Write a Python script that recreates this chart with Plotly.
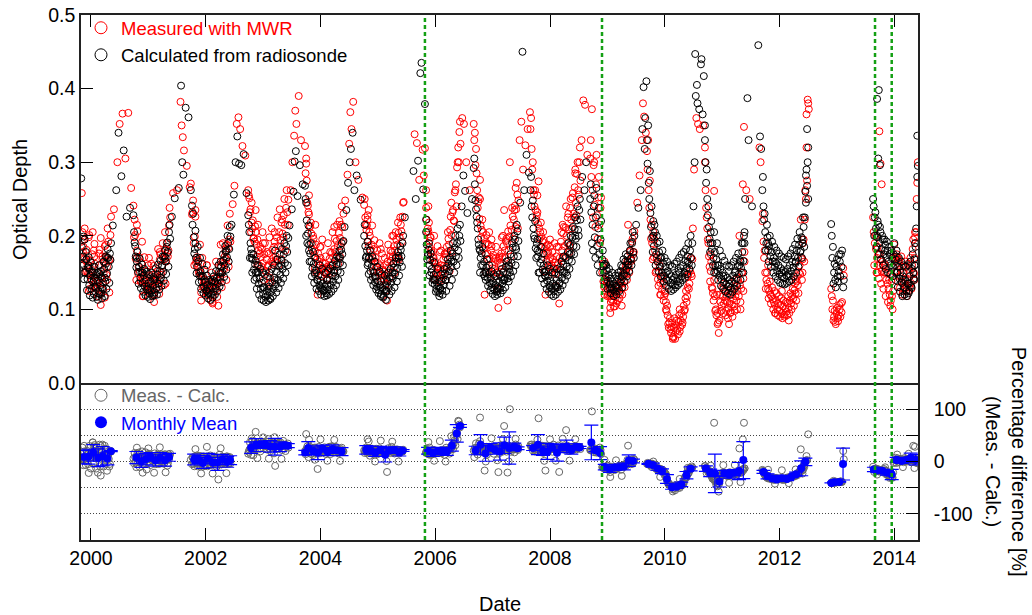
import plotly.graph_objects as go
import pandas as pd

# ---------------- data ----------------
# each entry: (decimal year, optical depth calculated from radiosonde, optical depth measured with MWR)
season_1999_2000 = [
    (1999.83, .278, None), (1999.84, None, .258),
    (1999.84, .185, .192), (1999.86, .172, .178), (1999.87, .160, .171), (1999.89, .195, .210), (1999.90, .150, .152),
    (1999.92, .168, .181), (1999.94, .141, .160), (1999.95, .157, .149), (1999.97, .133, .148), (1999.99, .146, .166),
    (2000.01, .128, .139), (2000.02, .152, .175), (2000.03, .150, .205), (2000.04, .137, .131), (2000.05, .121, .146),
    (2000.07, .143, .162), (2000.08, .130, .138), (2000.10, .117, .131), (2000.11, .139, .150), (2000.13, .125, .139),
    (2000.15, .148, .181), (2000.16, .133, .121), (2000.17, .145, .106), (2000.18, .121, .143), (2000.20, .142, .168),
    (2000.21, .128, .136), (2000.23, .155, .163), (2000.24, .118, .116), (2000.25, .138, .172), (2000.26, .162, .171),
    (2000.28, .149, .158), (2000.30, .170, .192), (2000.31, .158, .166), (2000.33, .176, .168), (2000.35, .190, .226),
]
extra_1999_2000 = [
    (1999.85, .162, .205), (1999.88, .141, .168), (1999.91, .178, .166), (1999.93, .126, .152), (1999.96, .171, .198),
    (1999.98, .119, .128), (2000.00, .164, .142), (2000.03, .116, .158), (2000.06, .158, .189), (2000.09, .148, .128),
    (2000.12, .113, .135), (2000.14, .160, .176), (2000.17, .152, .197), (2000.19, .115, .127), (2000.22, .165, .149),
    (2000.24, .143, .186), (2000.27, .128, .147), (2000.29, .182, .210), (2000.32, .136, .123), (2000.34, .167, .201),
    (1999.87, .199, .185), (1999.97, .155, .201), (2000.06, .131, .172), (2000.15, .121, .160), (2000.26, .172, .188),
]
summer_2000 = [
    (2000.38, .214, None), (2000.40, None, .236), (2000.44, .262, None), (2000.46, None, .300), (2000.48, .340, None),
    (2000.50, None, .352), (2000.53, .281, None), (2000.55, None, .366), (2000.57, .316, None), (2000.60, None, .305),
    (2000.62, .226, None), (2000.65, None, .367), (2000.68, .238, None), (2000.70, None, .265),
]
season_2000_2001 = [
    (2000.74, .228, .241), (2000.75, .205, .198), (2000.77, .186, .201), (2000.78, .172, .169), (2000.80, .165, .180),
    (2000.82, .151, .149), (2000.84, .158, .171), (2000.86, .143, .139), (2000.88, .150, .163), (2000.90, .136, .141),
    (2000.92, .146, .138), (2000.94, .131, .143), (2000.96, .140, .152), (2000.98, .127, .125), (2001.00, .135, .146),
    (2001.02, .122, .131), (2001.04, .138, .129), (2001.06, .126, .139), (2001.08, .133, .147), (2001.10, .119, .121),
    (2001.12, .141, .138), (2001.14, .129, .140), (2001.16, .147, .152), (2001.18, .135, .131), (2001.20, .152, .168),
    (2001.22, .143, .147), (2001.24, .160, .159), (2001.26, .151, .170), (2001.28, .172, .168), (2001.30, .165, .181),
    (2001.32, .185, .190), (2001.34, .178, .172), (2001.36, .205, .214), (2001.38, .196, .225),
]
extra_2000_2001 = [
    (2000.76, .191, .222), (2000.79, .157, .140), (2000.81, .178, .206), (2000.83, .135, .158), (2000.85, .169, .151),
    (2000.87, .129, .137), (2000.89, .161, .192), (2000.91, .124, .118), (2000.93, .155, .171), (2000.95, .119, .140),
    (2000.97, .151, .128), (2000.99, .117, .132), (2001.01, .148, .170), (2001.03, .114, .127), (2001.05, .150, .162),
    (2001.07, .118, .120), (2001.09, .144, .159), (2001.11, .123, .142), (2001.13, .156, .148), (2001.15, .120, .135),
    (2001.17, .161, .182), (2001.19, .127, .121), (2001.21, .166, .175), (2001.23, .132, .150), (2001.25, .172, .190),
    (2001.27, .139, .133), (2001.29, .180, .205), (2001.31, .148, .165), (2001.33, .191, .176), (2001.35, .158, .180),
    (2001.37, .215, .238),
]
summer_2001 = [
    (2001.41, .226, None), (2001.43, None, .258), (2001.46, .251, None), (2001.50, None, .262), (2001.53, .265, None),
    (2001.56, None, .382), (2001.57, .404, None), (2001.58, None, .350), (2001.59, .300, None), (2001.60, None, .334),
    (2001.61, .283, None), (2001.62, None, .316), (2001.65, .374, None), (2001.67, None, .295), (2001.70, .361, None),
    (2001.72, None, .266),
]
season_2001_2002 = [
    (2001.74, .262, .271), (2001.76, .241, .229), (2001.77, .215, .232), (2001.79, .198, .190), (2001.81, .182, .199),
    (2001.83, .170, .163), (2001.85, .158, .171), (2001.87, .165, .158), (2001.89, .146, .152), (2001.91, .152, .149),
    (2001.93, .138, .144), (2001.95, .145, .131), (2001.97, .131, .140), (2001.99, .137, .129), (2002.01, .126, .134),
    (2002.03, .133, .121), (2002.05, .122, .127), (2002.07, .129, .131), (2002.09, .120, .112), (2002.11, .131, .136),
    (2002.13, .124, .119), (2002.15, .138, .142), (2002.17, .129, .135), (2002.19, .142, .128), (2002.21, .135, .139),
    (2002.22, .160, .105), (2002.23, .151, .160), (2002.25, .144, .141), (2002.27, .158, .149), (2002.29, .150, .164),
    (2002.31, .167, .162), (2002.33, .160, .172), (2002.35, .178, .169), (2002.37, .171, .188), (2002.39, .190, .183),
    (2002.41, .182, .195), (2002.43, .199, .192),
]
extra_2001_2002 = [
    (2001.78, .230, .248), (2001.80, .176, .160), (2001.82, .207, .226), (2001.84, .149, .166), (2001.86, .185, .168),
    (2001.88, .137, .150), (2001.90, .170, .188), (2001.92, .128, .123), (2001.94, .162, .170), (2001.96, .122, .134),
    (2001.98, .154, .141), (2002.00, .119, .125), (2002.02, .146, .160), (2002.04, .115, .120), (2002.06, .140, .133),
    (2002.08, .113, .126), (2002.10, .138, .150), (2002.12, .116, .110), (2002.14, .145, .138), (2002.16, .120, .131),
    (2002.18, .152, .165), (2002.20, .125, .117), (2002.24, .131, .148), (2002.26, .165, .158), (2002.28, .137, .130),
    (2002.30, .175, .190), (2002.32, .144, .155), (2002.34, .186, .179), (2002.36, .154, .168), (2002.38, .200, .214),
    (2002.40, .165, .158), (2002.42, .212, .230),
]
summer_2002 = [
    (2002.45, .215, None), (2002.47, None, .243), (2002.49, .256, None), (2002.50, None, .268), (2002.52, .300, None),
    (2002.54, None, .352), (2002.55, .335, None), (2002.57, None, .361), (2002.58, .298, None), (2002.60, None, .345),
    (2002.62, .296, None), (2002.64, None, .322), (2002.66, .311, None), (2002.69, None, .309), (2002.71, .258, None),
]
season_2002_2003 = [
    (2002.74, .228, .262), (2002.76, .205, .251), (2002.78, .190, .236), (2002.80, .176, .218), (2002.82, .168, .221),
    (2002.84, .154, .197), (2002.86, .161, .213), (2002.87, .150, .235), (2002.88, .143, .189), (2002.90, .150, .195),
    (2002.92, .135, .180), (2002.94, .142, .176), (2002.96, .128, .171), (2002.98, .136, .182), (2003.00, .121, .163),
    (2003.02, .130, .175), (2003.04, .117, .152), (2003.06, .125, .168), (2003.08, .119, .158), (2003.10, .131, .176),
    (2003.12, .115, .143), (2003.14, .124, .165), (2003.16, .137, .181), (2003.18, .128, .170), (2003.20, .143, .192),
    (2003.21, .180, .165), (2003.22, .134, .172), (2003.24, .151, .198), (2003.26, .140, .186), (2003.28, .158, .205),
    (2003.30, .147, .194), (2003.32, .166, .218), (2003.34, .155, .203), (2003.36, .175, .228), (2003.38, .163, .215),
    (2003.40, .186, .238), (2003.42, .178, .232), (2003.44, .197, .249),
]
extra_2002_2003 = [
    (2002.75, .215, .255), (2002.77, .170, .232), (2002.79, .182, .205), (2002.81, .150, .210), (2002.83, .175, .196),
    (2002.85, .140, .192), (2002.87, .166, .205), (2002.89, .128, .172), (2002.91, .160, .215), (2002.93, .120, .160),
    (2002.95, .155, .185), (2002.97, .114, .158), (2002.99, .150, .205), (2003.01, .112, .140), (2003.03, .147, .190),
    (2003.05, .110, .152), (2003.07, .145, .178), (2003.09, .112, .160), (2003.11, .150, .198), (2003.13, .114, .137),
    (2003.15, .155, .210), (2003.17, .118, .162), (2003.19, .160, .185), (2003.23, .123, .168), (2003.25, .168, .225),
    (2003.27, .129, .160), (2003.29, .175, .236), (2003.31, .136, .185), (2003.33, .182, .222), (2003.35, .142, .198),
    (2003.37, .190, .250), (2003.39, .150, .180), (2003.41, .200, .262), (2003.43, .160, .215),
]
summer_2003 = [
    (2003.46, .214, None), (2003.48, None, .262), (2003.50, .236, None), (2003.51, None, .300), (2003.53, .260, None),
    (2003.54, None, .336), (2003.55, .301, None), (2003.56, None, .370), (2003.57, .315, None), (2003.58, None, .352),
    (2003.60, .254, None), (2003.62, None, .390), (2003.64, .296, None), (2003.66, None, .330), (2003.69, .270, None),
]
season_2003_2004 = [
    (2003.73, .268, .322), (2003.75, .245, .298), (2003.75, .200, .305), (2003.76, .221, .275), (2003.78, .203, .241),
    (2003.80, .188, .229), (2003.82, .176, .213), (2003.84, .165, .203), (2003.86, .156, .190), (2003.88, .162, .196),
    (2003.90, .148, .179), (2003.92, .153, .188), (2003.94, .140, .168), (2003.95, .140, .120), (2003.96, .146, .176),
    (2003.98, .133, .165), (2004.00, .139, .170), (2004.02, .128, .155), (2004.04, .135, .163), (2004.05, .126, .156),
    (2004.06, .125, .151), (2004.08, .131, .162), (2004.10, .122, .148), (2004.12, .134, .158), (2004.14, .127, .156),
    (2004.16, .140, .169), (2004.18, .133, .160), (2004.20, .146, .177), (2004.22, .138, .171), (2004.24, .153, .182),
    (2004.26, .145, .178), (2004.28, .161, .193), (2004.30, .152, .186), (2004.32, .170, .204), (2004.34, .163, .197),
    (2004.36, .181, .215), (2004.38, .175, .212), (2004.40, .193, .230),
]
extra_2003_2004 = [
    (2003.74, .250, .285), (2003.77, .190, .245), (2003.79, .214, .232), (2003.81, .165, .212), (2003.83, .190, .218),
    (2003.85, .145, .182), (2003.87, .178, .200), (2003.89, .136, .172), (2003.91, .170, .215), (2003.93, .128, .150),
    (2003.97, .125, .160), (2003.99, .160, .185), (2004.01, .120, .145), (2004.03, .155, .195), (2004.07, .118, .150),
    (2004.09, .150, .172), (2004.11, .119, .140), (2004.13, .152, .190), (2004.15, .121, .155), (2004.17, .156, .178),
    (2004.19, .124, .160), (2004.21, .160, .205), (2004.23, .128, .150), (2004.25, .166, .196), (2004.27, .133, .170),
    (2004.29, .172, .215), (2004.31, .140, .162), (2004.33, .180, .220), (2004.35, .150, .186), (2004.37, .190, .240),
    (2004.39, .160, .192),
]
summer_2004 = [
    (2004.42, .212, None), (2004.43, None, .248), (2004.45, .235, None), (2004.47, None, .283), (2004.48, .272, None),
    (2004.50, None, .325), (2004.51, .300, None), (2004.52, None, .368), (2004.53, .318, None), (2004.54, None, .345),
    (2004.56, .340, None), (2004.57, None, .382), (2004.59, .262, None), (2004.61, None, .300), (2004.63, .282, None),
    (2004.66, None, .276), (2004.70, .249, None), (2004.73, None, .252),
]
season_2004_2005 = [
    (2004.76, .200, .242), (2004.78, .186, .225), (2004.80, .172, .208), (2004.81, .180, .214), (2004.82, .160, .228),
    (2004.83, .163, .192), (2004.85, .170, .205), (2004.87, .152, .181), (2004.89, .158, .188), (2004.91, .144, .170),
    (2004.93, .150, .182), (2004.95, .137, .165), (2004.96, .143, .170), (2004.98, .131, .157), (2005.00, .138, .163),
    (2005.02, .126, .150), (2005.04, .133, .160), (2005.06, .121, .146), (2005.08, .129, .154), (2005.10, .118, .140),
    (2005.11, .127, .152), (2005.13, .133, .160), (2005.15, .124, .148), (2005.16, .140, .112), (2005.17, .138, .165),
    (2005.19, .130, .156), (2005.21, .144, .172), (2005.23, .136, .166), (2005.25, .150, .178), (2005.26, .142, .171),
    (2005.28, .157, .186), (2005.30, .148, .180), (2005.32, .165, .195), (2005.34, .156, .188), (2005.36, .173, .204),
    (2005.38, .164, .198), (2005.40, .181, .215), (2005.41, .172, .206), (2005.43, .190, .226),
]
extra_2004_2005 = [
    (2004.77, .215, .250), (2004.79, .170, .215), (2004.82, .192, .222), (2004.84, .148, .186), (2004.86, .180, .200),
    (2004.88, .140, .168), (2004.90, .172, .214), (2004.92, .133, .152), (2004.94, .165, .194), (2004.97, .127, .158),
    (2004.99, .158, .180), (2005.01, .122, .150), (2005.03, .152, .190), (2005.05, .118, .138), (2005.07, .148, .176),
    (2005.09, .116, .142), (2005.12, .146, .170), (2005.14, .113, .135), (2005.18, .150, .188), (2005.20, .120, .142),
    (2005.22, .155, .180), (2005.24, .125, .160), (2005.27, .162, .200), (2005.29, .130, .150), (2005.31, .170, .205),
    (2005.33, .138, .170), (2005.35, .178, .218), (2005.37, .146, .168), (2005.39, .186, .225), (2005.42, .158, .192),
    (2005.44, .200, .245),
]
summer_2005 = [
    (2005.45, None, .246), (2005.47, .225, None), (2005.62, .288, None), (2005.64, None, .338), (2005.66, .250, None),
    (2005.68, None, .326), (2005.70, .302, None), (2005.72, None, .276), (2005.74, .421, None), (2005.76, .435, None),
    (2005.78, None, .317), (2005.79, .263, None), (2005.80, None, .282), (2005.82, .379, None), (2005.82, None, .319),
]
season_2005_2006 = [
    (2005.84, .205, .238), (2005.85, .188, .222), (2005.87, .174, .210), (2005.88, .181, .206), (2005.90, .160, .193),
    (2005.91, .167, .198), (2005.93, .150, .180), (2005.94, .155, .177), (2005.96, .141, .170), (2005.97, .147, .171),
    (2005.99, .134, .162), (2006.00, .140, .165), (2006.02, .128, .150), (2006.03, .136, .158), (2006.05, .124, .146),
    (2006.06, .131, .157), (2006.08, .122, .142), (2006.09, .129, .155), (2006.11, .138, .160), (2006.12, .126, .151),
    (2006.14, .143, .168), (2006.15, .133, .159), (2006.17, .149, .176), (2006.18, .140, .171), (2006.20, .156, .185),
    (2006.21, .146, .178), (2006.23, .162, .196), (2006.24, .152, .188), (2006.26, .170, .208), (2006.28, .158, .201),
    (2006.30, .176, .232), (2006.32, .165, .221), (2006.34, .184, .259), (2006.36, .172, .270), (2006.38, .190, .293),
    (2006.40, .180, .320), (2006.42, .200, .341), (2006.44, .193, .325),
]
extra_2005_2006 = [
    (2005.84, .222, .262), (2005.86, .168, .205), (2005.89, .190, .218), (2005.90, .146, .185), (2005.92, .176, .198),
    (2005.95, .136, .166), (2005.98, .164, .200), (2006.01, .124, .148), (2006.04, .155, .186), (2006.07, .118, .138),
    (2006.10, .148, .180), (2006.13, .120, .146), (2006.16, .155, .175), (2006.19, .125, .158), (2006.22, .168, .205),
    (2006.25, .132, .152), (2006.27, .180, .226), (2006.29, .140, .178), (2006.31, .190, .235), (2006.33, .150, .220),
    (2006.35, .200, .262), (2006.37, .160, .240), (2006.39, .210, .300), (2006.41, .170, .300), (2006.43, .215, .355),
]
summer_2006 = [
    (2006.46, .240, None), (2006.47, None, .360), (2006.49, .282, None), (2006.50, None, .352), (2006.52, .261, None),
    (2006.54, None, .300), (2006.56, .231, None), (2006.60, None, .262), (2006.64, .250, None),
]
season_2006_2007 = [
    (2006.67, .292, .352), (2006.69, .270, .340), (2006.70, .248, .296), (2006.72, .226, .285), (2006.74, .210, .238),
    (2006.75, .195, .246), (2006.77, .182, .223), (2006.78, .150, .276), (2006.79, .170, .214), (2006.81, .176, .208),
    (2006.83, .160, .205), (2006.85, .165, .196), (2006.86, .145, .120), (2006.87, .151, .189), (2006.89, .157, .201),
    (2006.91, .143, .176), (2006.93, .148, .188), (2006.95, .136, .169), (2006.97, .142, .180), (2006.99, .130, .160),
    (2007.01, .137, .174), (2007.03, .127, .155), (2007.05, .133, .169), (2007.07, .124, .150), (2007.09, .131, .166),
    (2007.10, .128, .102), (2007.11, .138, .170), (2007.13, .128, .163), (2007.15, .144, .176), (2007.17, .135, .171),
    (2007.19, .151, .186), (2007.20, .140, .235), (2007.21, .141, .180), (2007.23, .158, .193), (2007.25, .148, .190),
    (2007.26, .142, .112), (2007.27, .166, .206), (2007.29, .155, .199), (2007.30, .150, .300), (2007.31, .175, .214),
    (2007.33, .163, .208), (2007.35, .184, .226), (2007.37, .172, .222), (2007.39, .195, .241), (2007.41, .182, .236),
    (2007.43, .206, .256), (2007.45, .193, .248),
]
extra_2006_2007 = [
    (2006.68, .305, .330), (2006.71, .236, .318), (2006.73, .218, .262), (2006.76, .188, .252), (2006.80, .160, .198),
    (2006.82, .185, .222), (2006.84, .148, .182), (2006.88, .140, .175), (2006.90, .168, .190), (2006.92, .132, .168),
    (2006.94, .160, .205), (2006.96, .126, .150), (2006.98, .152, .186), (2007.00, .121, .156), (2007.02, .148, .170),
    (2007.04, .118, .145), (2007.06, .145, .185), (2007.08, .120, .150), (2007.12, .148, .172), (2007.14, .122, .160),
    (2007.16, .155, .198), (2007.18, .126, .150), (2007.22, .130, .170), (2007.24, .165, .196), (2007.28, .138, .180),
    (2007.32, .145, .172), (2007.34, .190, .238), (2007.36, .152, .196), (2007.38, .200, .235), (2007.40, .160, .212),
    (2007.42, .215, .272), (2007.44, .172, .210),
]
summer_2007 = [
    (2007.47, None, .330), (2007.48, .245, None), (2007.50, None, .355), (2007.52, .450, None), (2007.53, None, .290),
    (2007.55, .262, None), (2007.57, None, .323), (2007.59, .310, None), (2007.61, None, .345), (2007.63, .286, None),
    (2007.65, None, .368),
]
season_2007_2008 = [
    (2007.66, .262, .345), (2007.68, .240, .318), (2007.69, .225, .290), (2007.71, .210, .262), (2007.73, .196, .240),
    (2007.75, .183, .235), (2007.77, .190, .228), (2007.79, .172, .216), (2007.80, .150, .274), (2007.81, .178, .210),
    (2007.83, .163, .205), (2007.85, .168, .199), (2007.87, .154, .192), (2007.89, .160, .194), (2007.91, .146, .183),
    (2007.92, .145, .120), (2007.93, .152, .186), (2007.95, .139, .176), (2007.97, .145, .178), (2007.99, .133, .166),
    (2008.01, .139, .171), (2008.03, .128, .160), (2008.05, .135, .168), (2008.07, .125, .155), (2008.09, .132, .164),
    (2008.11, .140, .172), (2008.13, .130, .160), (2008.15, .147, .185), (2008.16, .135, .108), (2008.17, .137, .170),
    (2008.19, .154, .192), (2008.21, .143, .180), (2008.23, .161, .203), (2008.25, .151, .186), (2008.27, .170, .211),
    (2008.28, .150, .240), (2008.29, .158, .200), (2008.31, .178, .225), (2008.33, .167, .209), (2008.35, .188, .238),
    (2008.37, .176, .222), (2008.39, .198, .252), (2008.41, .186, .230), (2008.43, .209, .266), (2008.45, .196, .245),
    (2008.47, .221, .284), (2008.49, .208, .262), (2008.51, .235, .300), (2008.53, .222, .275),
]
extra_2007_2008 = [
    (2007.67, .280, .360), (2007.70, .248, .300), (2007.72, .200, .256), (2007.74, .220, .262), (2007.76, .170, .222),
    (2007.78, .195, .232), (2007.82, .150, .196), (2007.84, .185, .218), (2007.86, .142, .185), (2007.88, .176, .205),
    (2007.90, .135, .175), (2007.94, .128, .165), (2007.96, .160, .188), (2007.98, .124, .160), (2008.00, .155, .195),
    (2008.02, .120, .150), (2008.04, .150, .178), (2008.06, .118, .156), (2008.08, .150, .190), (2008.10, .120, .148),
    (2008.12, .155, .185), (2008.14, .124, .162), (2008.18, .127, .158), (2008.20, .165, .205), (2008.22, .133, .170),
    (2008.24, .172, .212), (2008.26, .140, .172), (2008.30, .146, .190), (2008.32, .190, .230), (2008.34, .155, .186),
    (2008.36, .200, .250), (2008.38, .165, .210), (2008.40, .212, .258), (2008.42, .175, .225), (2008.44, .225, .290),
    (2008.46, .185, .228), (2008.48, .240, .300), (2008.50, .200, .256), (2008.52, .250, .320),
]
summer_2008 = [
    (2008.55, None, .330), (2008.56, .280, None), (2008.58, None, .384), (2008.60, .262, None), (2008.61, None, .378),
    (2008.63, .300, None), (2008.65, None, .310),
    (2008.70, .250, .305), (2008.71, .270, .330), (2008.72, .232, .280), (2008.73, .190, .372), (2008.74, .215, .262),
    (2008.75, .180, .225), (2008.76, .240, .296), (2008.77, .255, .300), (2008.78, .198, .242), (2008.79, .170, .212),
    (2008.80, .225, .270), (2008.81, .265, .310), (2008.82, .186, .228), (2008.83, .160, .196), (2008.84, .210, .252),
    (2008.85, .238, .280), (2008.86, .175, .215), (2008.87, .150, .190), (2008.88, .195, .238), (2008.89, .220, .252),
]
season_2008_2009 = [
    (2008.91, .168, .150), (2008.93, .158, .138), (2008.94, .150, .131), (2008.96, .162, .141), (2008.97, .144, .125),
    (2008.99, .153, .136), (2009.01, .139, .120), (2009.02, .147, .129), (2009.04, .134, .118), (2009.05, .128, .102),
    (2009.06, .142, .122), (2009.07, .130, .114), (2009.09, .138, .121), (2009.10, .127, .110), (2009.12, .135, .119),
    (2009.13, .124, .104), (2009.15, .132, .117), (2009.17, .140, .125), (2009.18, .129, .113), (2009.20, .146, .130),
    (2009.22, .136, .121), (2009.23, .152, .139), (2009.25, .141, .128), (2009.27, .158, .146), (2009.29, .148, .137),
    (2009.31, .165, .155), (2009.33, .154, .148), (2009.35, .172, .166), (2009.36, .165, .215), (2009.37, .161, .158),
    (2009.39, .180, .178), (2009.41, .169, .168), (2009.43, .190, .192), (2009.45, .178, .175), (2009.47, .200, .206),
]
extra_2008_2009 = [
    (2008.92, .180, .162), (2008.95, .138, .120), (2008.98, .160, .140), (2009.00, .128, .118), (2009.03, .155, .130),
    (2009.06, .122, .110), (2009.08, .150, .128), (2009.11, .118, .104), (2009.14, .146, .125), (2009.16, .120, .108),
    (2009.19, .150, .132), (2009.21, .125, .115), (2009.24, .160, .135), (2009.26, .130, .120), (2009.28, .168, .150),
    (2009.30, .138, .130), (2009.32, .175, .160), (2009.34, .145, .140), (2009.38, .152, .150), (2009.40, .190, .180),
    (2009.42, .160, .166), (2009.44, .205, .196), (2009.46, .170, .178),
]
summer_2009 = [
    (2009.50, .215, None), (2009.52, None, .245), (2009.54, .238, None), (2009.56, None, .282), (2009.58, .262, None),
    (2009.60, None, .330), (2009.61, .345, None), (2009.62, None, .380), (2009.63, .402, None), (2009.64, None, .362),
    (2009.65, .318, None), (2009.66, .360, None), (2009.67, None, .340), (2009.68, .410, None),
]
season_2009_2010 = [
    (2009.69, .330, .315), (2009.70, .298, .290), (2009.72, .272, .262), (2009.73, .250, .238), (2009.75, .231, .222),
    (2009.76, .212, .196), (2009.78, .198, .190), (2009.80, .220, .205), (2009.81, .186, .171), (2009.83, .205, .180),
    (2009.85, .175, .152), (2009.87, .190, .165), (2009.88, .165, .141), (2009.90, .178, .150), (2009.92, .158, .136),
    (2009.94, .170, .142), (2009.95, .150, .127), (2009.97, .163, .136), (2009.99, .146, .118), (2010.01, .158, .122),
    (2010.03, .141, .098), (2010.05, .152, .092), (2010.06, .139, .080), (2010.08, .148, .082), (2010.10, .136, .073),
    (2010.12, .145, .076), (2010.14, .134, .063), (2010.16, .143, .075), (2010.18, .133, .060), (2010.20, .147, .078),
    (2010.22, .138, .072), (2010.24, .152, .083), (2010.26, .141, .070), (2010.28, .156, .085), (2010.30, .145, .079),
    (2010.32, .160, .090), (2010.34, .150, .098), (2010.36, .166, .115), (2010.38, .156, .110), (2010.40, .172, .130),
    (2010.42, .162, .128), (2010.44, .180, .152), (2010.46, .170, .148), (2010.48, .190, .168),
]
extra_2009_2010 = [
    (2009.71, .350, .330), (2009.74, .288, .275), (2009.77, .240, .215), (2009.79, .178, .168), (2009.82, .215, .195),
    (2009.84, .160, .150), (2009.86, .200, .170), (2009.89, .152, .132), (2009.91, .192, .160), (2009.93, .145, .120),
    (2009.96, .180, .145), (2009.98, .138, .112), (2010.00, .170, .125), (2010.02, .132, .100), (2010.04, .165, .105),
    (2010.07, .128, .075), (2010.09, .160, .088), (2010.11, .125, .068), (2010.13, .158, .082), (2010.15, .127, .062),
    (2010.17, .162, .088), (2010.19, .130, .071), (2010.21, .165, .085), (2010.23, .133, .066), (2010.25, .170, .092),
    (2010.27, .136, .076), (2010.29, .175, .095), (2010.31, .140, .082), (2010.33, .178, .105), (2010.35, .143, .100),
    (2010.37, .182, .125), (2010.39, .148, .118), (2010.41, .190, .148), (2010.43, .155, .135), (2010.45, .200, .170),
    (2010.47, .160, .145),
]
summer_2010 = [
    (2010.49, None, .210), (2010.50, .240, None), (2010.51, None, .290), (2010.52, .300, None), (2010.53, .447, None),
    (2010.54, .390, None), (2010.55, None, .360), (2010.56, .405, None), (2010.57, .380, None), (2010.58, None, .352),
    (2010.60, .372, None), (2010.61, None, .345), (2010.63, .433, None), (2010.64, .440, None), (2010.66, .365, None),
    (2010.67, None, .350), (2010.68, .417, None),
]
season_2010_2011 = [
    (2010.70, .330, .300), (2010.71, .300, .262), (2010.72, .272, .238), (2010.74, .250, .210), (2010.75, .228, .195),
    (2010.77, .212, .172), (2010.78, .196, .158), (2010.80, .205, .152), (2010.82, .182, .130), (2010.83, .190, .128),
    (2010.85, .170, .112), (2010.86, .150, .261), (2010.87, .178, .118), (2010.88, .160, .098), (2010.90, .168, .092),
    (2010.92, .152, .080), (2010.94, .160, .068), (2010.95, .146, .085), (2010.97, .155, .110), (2010.99, .141, .105),
    (2011.01, .150, .118), (2011.03, .137, .108), (2011.05, .146, .112), (2011.07, .134, .098), (2011.09, .143, .110),
    (2011.11, .131, .102), (2011.13, .140, .108), (2011.15, .129, .096), (2011.17, .138, .107), (2011.19, .146, .114),
    (2011.21, .135, .104), (2011.23, .152, .118), (2011.25, .142, .112), (2011.27, .159, .125), (2011.29, .148, .118),
    (2011.30, .160, .200), (2011.31, .167, .133), (2011.33, .156, .128), (2011.35, .178, .150), (2011.36, .190, .270),
    (2011.37, .166, .142), (2011.38, .200, .348), (2011.39, .190, .165),
]
extra_2010_2011 = [
    (2010.70, .350, .320), (2010.73, .290, .225), (2010.76, .240, .190), (2010.79, .178, .138), (2010.81, .220, .165),
    (2010.84, .160, .122), (2010.86, .205, .140), (2010.89, .150, .100), (2010.91, .190, .120), (2010.93, .140, .082),
    (2010.96, .180, .120), (2010.98, .132, .098), (2011.00, .172, .130), (2011.02, .128, .095), (2011.04, .166, .125),
    (2011.06, .124, .092), (2011.08, .160, .118), (2011.10, .122, .088), (2011.12, .158, .125), (2011.14, .120, .095),
    (2011.16, .160, .120), (2011.18, .124, .090), (2011.20, .165, .128), (2011.22, .128, .098), (2011.24, .170, .132),
    (2011.26, .132, .100), (2011.28, .176, .140), (2011.32, .140, .110), (2011.34, .190, .150), (2011.37, .150, .125),
    (2011.39, .205, .178),
]
summer_2011 = [
    (2011.40, .250, None), (2011.42, None, .262), (2011.44, .387, None), (2011.46, .330, None), (2011.48, None, .250),
    (2011.52, .240, None), (2011.63, .459, None), (2011.65, None, .320), (2011.66, .335, None), (2011.67, None, .300),
    (2011.68, .318, None),
]
season_2011_2012 = [
    (2011.70, .262, .220), (2011.72, .240, .192), (2011.73, .222, .170), (2011.75, .205, .150), (2011.77, .190, .140),
    (2011.79, .198, .135), (2011.80, .180, .128), (2011.82, .186, .125), (2011.84, .172, .120), (2011.86, .178, .118),
    (2011.88, .165, .114), (2011.90, .170, .110), (2011.92, .158, .106), (2011.94, .163, .112), (2011.96, .152, .100),
    (2011.98, .160, .108), (2012.00, .148, .098), (2012.02, .156, .106), (2012.04, .145, .095), (2012.06, .153, .104),
    (2012.08, .143, .093), (2012.10, .151, .101), (2012.12, .146, .097), (2012.14, .155, .108), (2012.16, .148, .102),
    (2012.18, .160, .112), (2012.20, .152, .108), (2012.22, .165, .118), (2012.24, .157, .115), (2012.26, .172, .126),
    (2012.28, .163, .122), (2012.30, .180, .138), (2012.32, .170, .133), (2012.34, .188, .150), (2012.36, .178, .148),
    (2012.37, .180, .222), (2012.38, .198, .170), (2012.40, .190, .168), (2012.42, .212, .195), (2012.44, .225, .222),
    (2012.46, .245, .250), (2012.48, .268, .275), (2012.50, .250, .380),
]
extra_2011_2012 = [
    (2011.71, .280, .230), (2011.74, .230, .180), (2011.76, .180, .128), (2011.78, .215, .150), (2011.81, .165, .115),
    (2011.83, .200, .138), (2011.85, .158, .108), (2011.87, .192, .130), (2011.89, .150, .100), (2011.91, .185, .125),
    (2011.93, .145, .095), (2011.95, .180, .122), (2011.97, .140, .092), (2011.99, .176, .118), (2012.01, .136, .090),
    (2012.03, .172, .115), (2012.05, .135, .088), (2012.07, .170, .112), (2012.09, .134, .090), (2012.11, .168, .110),
    (2012.13, .136, .092), (2012.15, .172, .118), (2012.17, .138, .095), (2012.19, .176, .122), (2012.21, .140, .100),
    (2012.23, .182, .128), (2012.25, .145, .105), (2012.27, .188, .135), (2012.29, .150, .112), (2012.31, .196, .145),
    (2012.33, .158, .122), (2012.35, .205, .160), (2012.39, .170, .140), (2012.41, .225, .190), (2012.43, .185, .165),
    (2012.45, .260, .262), (2012.47, .290, .320),
]
summer_2012 = [
    (2012.46, .282, None), (2012.47, None, .365), (2012.48, .345, None), (2012.49, .300, None), (2012.49, None, .385),
    (2012.50, .320, None), (2012.51, None, .372),
]
season_2012_2013 = [
    (2012.90, .216, .128), (2012.91, .200, .118), (2012.93, .185, .112), (2012.95, .150, .090), (2012.97, .140, .083),
    (2012.99, .158, .095), (2013.01, .145, .088), (2013.03, .152, .092), (2013.05, .165, .100), (2013.07, .175, .108),
    (2013.09, .180, .110), (2013.11, .130, .156), (2013.12, .140, .146),
    (2012.92, .170, .100), (2012.94, .135, .085), (2012.96, .162, .098), (2012.98, .130, .080), (2013.00, .168, .102),
    (2013.02, .138, .084), (2013.04, .175, .106), (2013.06, .145, .090), (2013.08, .158, .096),
]
season_2013_2014 = [
    (2013.64, .240, .205), (2013.66, .225, .190), (2013.68, .210, .182), (2013.70, .198, .170), (2013.72, .215, .175),
    (2013.74, .190, .160), (2013.76, .205, .168), (2013.78, .182, .152), (2013.80, .195, .160), (2013.82, .175, .150),
    (2013.84, .188, .150), (2013.86, .170, .140), (2013.88, .180, .135), (2013.90, .165, .128), (2013.92, .175, .120),
    (2013.94, .160, .112), (2013.96, .170, .118), (2013.98, .158, .125),
    (2013.99, .175, .170), (2014.01, .160, .165), (2014.03, .168, .172), (2014.05, .150, .152), (2014.07, .158, .163),
    (2014.09, .142, .145), (2014.11, .150, .155), (2014.13, .136, .138), (2014.15, .145, .150), (2014.17, .130, .135),
    (2014.19, .140, .141), (2014.21, .125, .130), (2014.23, .135, .140), (2014.25, .122, .125), (2014.27, .145, .150),
    (2014.29, .132, .136), (2014.31, .155, .160), (2014.33, .150, .195), (2014.34, .142, .148), (2014.35, .168, .170),
    (2014.36, .160, .205), (2014.37, .185, .190), (2014.38, .210, .205), (2014.39, .240, .250), (2014.40, .280, .272),
    (2014.41, .295, .300),
]
extra_2013_2014 = [
    (2013.63, .250, .225), (2013.65, .200, .160), (2013.67, .232, .200), (2013.69, .185, .150), (2013.71, .220, .185),
    (2013.73, .175, .142), (2013.75, .212, .176), (2013.77, .168, .135), (2013.79, .200, .165), (2013.81, .160, .128),
    (2013.83, .195, .162), (2013.85, .155, .118), (2013.87, .192, .150), (2013.89, .150, .110), (2013.91, .185, .140),
    (2013.93, .148, .105), (2013.95, .180, .138), (2013.97, .145, .100),
    (2014.00, .190, .188), (2014.02, .140, .150), (2014.04, .180, .175), (2014.06, .130, .138), (2014.08, .170, .168),
    (2014.10, .124, .130), (2014.12, .165, .172), (2014.14, .118, .120), (2014.16, .160, .158), (2014.18, .120, .128),
    (2014.20, .158, .165), (2014.22, .118, .118), (2014.24, .160, .162), (2014.26, .125, .132), (2014.28, .165, .170),
    (2014.30, .130, .128), (2014.32, .175, .182), (2014.34, .140, .150), (2014.36, .190, .198),
    (2013.70, .386, None), (2013.73, .398, None), (2013.74, None, .342), (2013.72, .305, None), (2013.76, None, .298),
    (2013.75, .296, None), (2013.78, None, .270), (2014.40, .336, None),
]
# soundings with larger measured-calculated spread
spread_2000_2006 = [
    (1999.88, .150, .195), (1999.96, .160, .125), (2000.05, .140, .180), (2000.12, .150, .118), (2000.20, .130, .172),
    (2000.28, .170, .140), (2000.80, .170, .215), (2000.90, .150, .118), (2001.00, .128, .160), (2001.10, .140, .110),
    (2001.20, .140, .178), (2001.30, .170, .135), (2001.82, .190, .235), (2001.92, .145, .112), (2002.02, .125, .160),
    (2002.12, .140, .108), (2002.26, .150, .188), (2002.36, .180, .140), (2002.80, .170, .245), (2002.90, .150, .160),
    (2003.00, .130, .190), (2003.10, .128, .135), (2003.20, .140, .205), (2003.32, .160, .168), (2003.80, .180, .255),
    (2003.90, .150, .155), (2004.00, .130, .185), (2004.12, .140, .142), (2004.24, .150, .212), (2004.34, .170, .172),
    (2004.84, .170, .235), (2004.95, .145, .145), (2005.05, .130, .182), (2005.15, .125, .126), (2005.25, .145, .200),
    (2005.36, .170, .170), (2005.88, .175, .240), (2005.98, .140, .142), (2006.08, .128, .178), (2006.18, .140, .140),
    (2006.28, .165, .245),
]
spread_2006_2014 = [
    (2006.78, .180, .250), (2006.88, .150, .150), (2006.98, .135, .195), (2007.08, .125, .128), (2007.18, .140, .200),
    (2007.28, .160, .160), (2007.40, .185, .265), (2007.78, .180, .255), (2007.90, .150, .152), (2008.00, .130, .185),
    (2008.10, .130, .132), (2008.22, .150, .215), (2008.34, .175, .178), (2008.44, .200, .285), (2008.95, .160, .165),
    (2009.05, .135, .095), (2009.15, .130, .133), (2009.25, .145, .105), (2009.35, .160, .165), (2009.80, .200, .200),
    (2009.92, .170, .120), (2010.02, .150, .110), (2010.14, .140, .060), (2010.26, .150, .100), (2010.40, .165, .145),
    (2010.80, .190, .175), (2010.92, .160, .095), (2011.02, .145, .135), (2011.12, .135, .080), (2011.22, .150, .140),
    (2011.32, .165, .100), (2011.80, .190, .160), (2011.92, .165, .095), (2012.04, .150, .125), (2012.16, .145, .085),
    (2012.28, .165, .140), (2012.40, .195, .150), (2013.70, .200, .150), (2013.84, .180, .160), (2014.05, .150, .170),
    (2014.15, .140, .125), (2014.25, .135, .155), (2014.35, .160, .140),
]

# dates of the green dashed event lines (decimal years)
event_years = [2005.82, 2008.906, 2013.664, 2013.955]

# axis ticks
year_ticks = [2000, 2002, 2004, 2006, 2008, 2010, 2012, 2014]
year_labels = ["2000", "2002", "2004", "2006", "2008", "2010", "2012", "2014"]
od_ticks = [0.0, 0.1, 0.2, 0.3, 0.4, 0.5]
od_labels = ["0.0", "0.1", "0.2", "0.3", "0.4", "0.5"]
pct_ticks = [-100, -50, 0, 50, 100]
pct_labels = ["-100", "", "0", "", "100"]

# ---------------- assemble ----------------
all_rows = (season_1999_2000 + extra_1999_2000 + summer_2000 + season_2000_2001 + extra_2000_2001 + summer_2001
            + season_2001_2002 + extra_2001_2002 + summer_2002 + season_2002_2003 + extra_2002_2003 + summer_2003
            + season_2003_2004 + extra_2003_2004 + summer_2004 + season_2004_2005 + extra_2004_2005 + summer_2005
            + season_2005_2006 + extra_2005_2006 + summer_2006 + season_2006_2007 + extra_2006_2007 + summer_2007
            + season_2007_2008 + extra_2007_2008 + summer_2008 + season_2008_2009 + extra_2008_2009 + summer_2009
            + season_2009_2010 + extra_2009_2010 + summer_2010 + season_2010_2011 + extra_2010_2011 + summer_2011
            + season_2011_2012 + extra_2011_2012 + summer_2012 + season_2012_2013 + season_2013_2014
            + extra_2013_2014 + spread_2000_2006 + spread_2006_2014)
df = pd.DataFrame(all_rows, columns=["t", "calc", "meas"])
meas = df.dropna(subset=["meas"])
calc = df.dropna(subset=["calc"])
paired = df.dropna().copy()
paired["pct"] = (paired["meas"] - paired["calc"]) / paired["calc"] * 100.0
paired["month"] = (paired["t"] * 12).astype(int)
monthly = paired.groupby("month").agg(t=("t", "mean"), m=("pct", "mean"), s=("pct", "std"), n=("pct", "size"))
monthly = monthly[monthly["n"] >= 2]

FONT = "Liberation Sans, Arial, sans-serif"
X0, X1 = 1999.826, 2014.413

fig = go.Figure()
fig.add_trace(go.Scatter(x=meas["t"], y=meas["meas"], mode="markers", showlegend=False,
                         marker=dict(symbol="circle-open", size=7, color="#ff0000", line=dict(width=1)),
                         xaxis="x", yaxis="y"))
fig.add_trace(go.Scatter(x=calc["t"], y=calc["calc"], mode="markers", showlegend=False,
                         marker=dict(symbol="circle-open", size=7, color="#000000", line=dict(width=1)),
                         xaxis="x", yaxis="y"))
fig.add_trace(go.Scatter(x=paired["t"], y=paired["pct"], mode="markers", showlegend=False,
                         marker=dict(symbol="circle-open", size=7, color="#666666", line=dict(width=1)),
                         xaxis="x2", yaxis="y2"))
fig.add_trace(go.Scatter(x=monthly["t"], y=monthly["m"], mode="markers", showlegend=False,
                         marker=dict(symbol="circle", size=8, color="#0000ff"),
                         error_y=dict(type="data", array=monthly["s"].fillna(0), color="#0000ff", thickness=1.2, width=7),
                         xaxis="x2", yaxis="y2"))

# legend entries
fig.add_trace(go.Scatter(x=[None], y=[None], mode="markers", legend="legend",
                         name="<span style='color:#ff0000'>Measured with MWR</span>",
                         marker=dict(symbol="circle-open", size=12, color="#ff0000", line=dict(width=1)),
                         xaxis="x", yaxis="y"))
fig.add_trace(go.Scatter(x=[None], y=[None], mode="markers", legend="legend",
                         name="<span style='color:#000000'>Calculated from radiosonde</span>",
                         marker=dict(symbol="circle-open", size=12, color="#000000", line=dict(width=1)),
                         xaxis="x", yaxis="y"))
fig.add_trace(go.Scatter(x=[None], y=[None], mode="markers", legend="legend2",
                         name="<span style='color:#666666'>Meas. - Calc.</span>",
                         marker=dict(symbol="circle-open", size=12, color="#666666", line=dict(width=1)),
                         xaxis="x2", yaxis="y2"))
fig.add_trace(go.Scatter(x=[None], y=[None], mode="markers", legend="legend2",
                         name="<span style='color:#0000ff'>Monthly Mean</span>",
                         marker=dict(symbol="circle", size=12, color="#0000ff"),
                         xaxis="x2", yaxis="y2"))

for ev in event_years:
    fig.add_shape(type="line", xref="x", yref="paper", x0=ev, x1=ev, y0=0, y1=1,
                  line=dict(color="#14a014", width=2.5, dash="4px,3px"), layer="above")

SPLIT = 0.299
axis_common = dict(showline=True, linecolor="#222222", linewidth=1.5, mirror=True, showgrid=False,
                   zeroline=False, ticks="inside", ticklen=12, tickwidth=1.3, tickcolor="#000000",
                   automargin=False, ticklabeloverflow="allow",
                   tickfont=dict(family=FONT, size=19.5, color="#000000"))

fig.update_layout(
    template="none",
    width=1032, height=615,
    margin=dict(l=81, r=114, t=15, b=75, autoexpand=False),
    paper_bgcolor="white", plot_bgcolor="white",
    font=dict(family=FONT, color="#000000"),
    xaxis=dict(domain=[0, 1], anchor="y", side="top", range=[X0, X1], tickvals=year_ticks,
               showticklabels=False, **axis_common),
    yaxis=dict(domain=[SPLIT, 1], anchor="x", range=[0, 0.5], tickvals=od_ticks, ticktext=od_labels,
               **axis_common),
    xaxis2=dict(domain=[0, 1], anchor="y2", side="bottom", range=[X0, X1], tickvals=year_ticks,
                ticktext=year_labels, **{**axis_common, "mirror": False}),
    yaxis2=dict(domain=[0, SPLIT], anchor="x2", side="right", range=[-150, 150], tickvals=pct_ticks,
                ticktext=pct_labels, ticklabelstandoff=10, **{**axis_common, "showgrid": True},
                gridcolor="#444444", gridwidth=1, griddash="1px,2px"),
    legend=dict(x=0.0, y=1.011, xanchor="left", yanchor="top", bgcolor="rgba(0,0,0,0)",
                font=dict(family=FONT, size=18.5), tracegroupgap=0, itemsizing="trace"),
    legend2=dict(x=0.0, y=0.311, xanchor="left", yanchor="top", bgcolor="rgba(0,0,0,0)",
                 font=dict(family=FONT, size=18.5), tracegroupgap=0, itemsizing="trace"),
    annotations=[
        dict(text="Optical Depth", xref="paper", yref="paper", x=-0.0729, y=0.6495, textangle=-90,
             showarrow=False, xanchor="center", yanchor="middle", font=dict(family=FONT, size=20)),
        dict(text="Date", xref="paper", yref="paper", x=0.5, y=-0.122, showarrow=False,
             xanchor="center", yanchor="middle", font=dict(family=FONT, size=20)),
        dict(text="Percentage difference [%]<br>(Meas. - Calc.)", xref="paper", yref="y2", x=1.106, y=0,
             textangle=90, showarrow=False, xanchor="center", yanchor="middle",
             font=dict(family=FONT, size=20)),
    ],
)

# remove the browser's default page margin so the figure sits at the window's top-left corner
fig.write_html("out.html", config={"displayModeBar": False},
               post_script="document.body.style.margin='0px';")
